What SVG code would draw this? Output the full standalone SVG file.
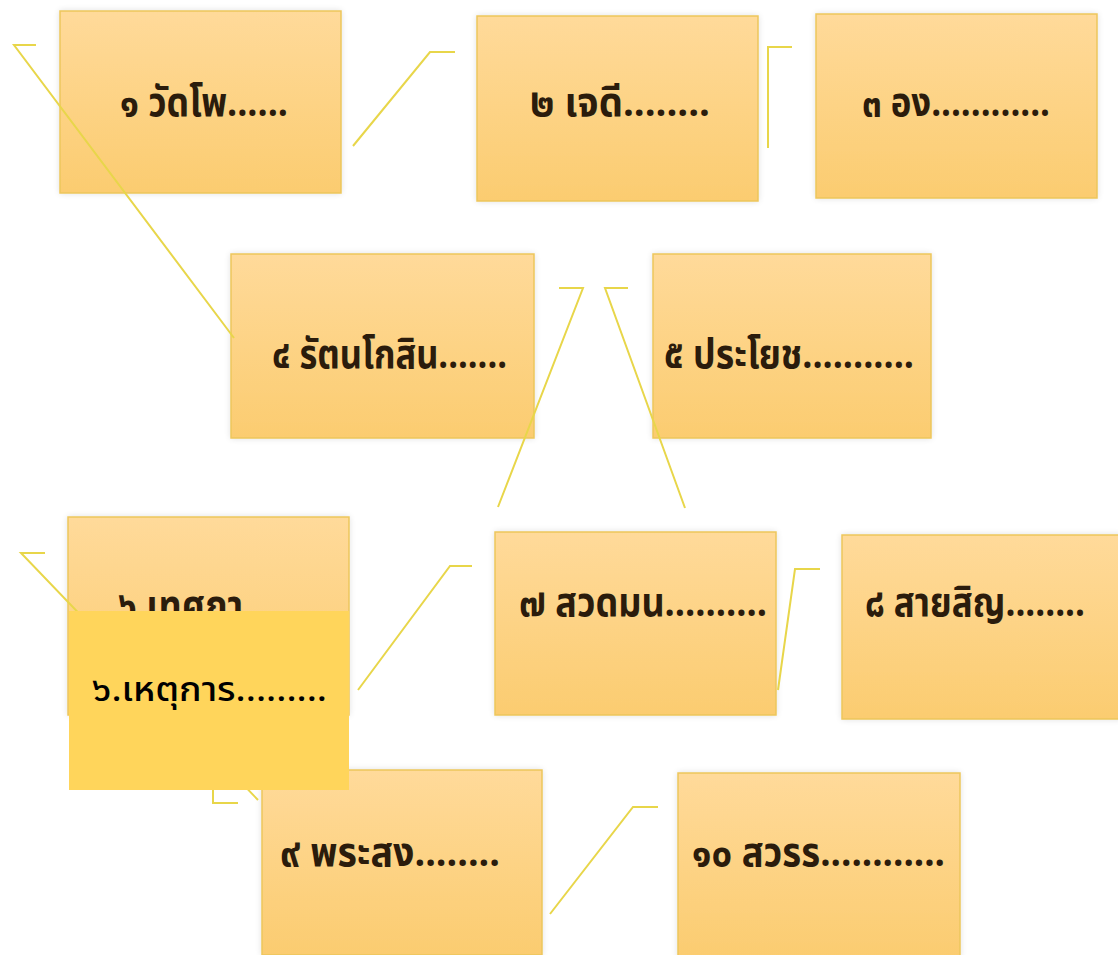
<svg xmlns="http://www.w3.org/2000/svg" width="1118" height="955" viewBox="0 0 1118 955">
<defs>
<linearGradient id="g" x1="0" y1="0" x2="0" y2="1">
<stop offset="0" stop-color="#FFDA9A"/>
<stop offset="1" stop-color="#FBCC70"/>
</linearGradient>
<filter id="glow" x="-10%" y="-10%" width="120%" height="120%">
<feGaussianBlur in="SourceAlpha" stdDeviation="3"/>
<feComponentTransfer><feFuncA type="linear" slope="0.12"/></feComponentTransfer>
<feMerge><feMergeNode/><feMergeNode in="SourceGraphic"/></feMerge>
</filter>
</defs>
<style>
.box{fill:url(#g);stroke:#EDC65C;stroke-width:1.5;filter:url(#glow)}
.lbl{font-family:"Noto Sans Thai","Noto Sans","DejaVu Sans",sans-serif;font-weight:bold;font-size:40px;fill:#2b1c0c}
.con{fill:none;stroke:#E8D64A;stroke-width:2;stroke-linejoin:miter}
.ov{fill:#FFD55B}
.ovt{font-family:"Noto Sans Thai","Noto Sans","DejaVu Sans",sans-serif;font-size:33px;font-weight:500;fill:#000}
</style>
<rect width="1118" height="955" fill="#ffffff"/>
<g id="n1"><rect class="box" x="60" y="11" width="281" height="182"/><text class="lbl" x="120" y="116" textLength="168" lengthAdjust="spacingAndGlyphs">๑ วัดโพ......</text></g>
<g id="n2"><rect class="box" x="477" y="16" width="281" height="185"/><text class="lbl" x="530" y="116" textLength="180" lengthAdjust="spacingAndGlyphs">๒  เจดี........</text></g>
<g id="n3"><rect class="box" x="816" y="14" width="281" height="184"/><text class="lbl" x="862" y="116" textLength="188" lengthAdjust="spacingAndGlyphs">๓ อง............</text></g>
<g id="n4"><rect class="box" x="231" y="254" width="303" height="184"/><text class="lbl" x="272" y="368" textLength="235" lengthAdjust="spacingAndGlyphs">๔ รัตนโกสิน.......</text></g>
<g id="n5"><rect class="box" x="653" y="254" width="278" height="184"/><text class="lbl" x="664" y="368" textLength="250" lengthAdjust="spacingAndGlyphs">๕ ประโยช...........</text></g>
<g id="n6"><rect class="box" x="68" y="517" width="281" height="198"/><text class="lbl" x="118" y="619" textLength="207" lengthAdjust="spacingAndGlyphs">๖ เทศกา........</text></g>
<g id="n7"><rect class="box" x="495" y="532" width="281" height="183"/><text class="lbl" x="519" y="616" textLength="248" lengthAdjust="spacingAndGlyphs">๗  สวดมน..........</text></g>
<g id="n8"><rect class="box" x="842" y="535" width="280" height="184"/><text class="lbl" x="865" y="616" textLength="220" lengthAdjust="spacingAndGlyphs">๘ สายสิญ........</text></g>
<g id="n9"><rect class="box" x="262" y="770" width="280" height="185"/><text class="lbl" x="280" y="866" textLength="220" lengthAdjust="spacingAndGlyphs">๙  พระสง........</text></g>
<g id="n10"><rect class="box" x="678" y="773" width="282" height="185"/><text class="lbl" x="692" y="866" textLength="253" lengthAdjust="spacingAndGlyphs">๑๐ สวรร............</text></g>
<g id="connectors">
<path class="con" d="M36 45 H14 L234 338"/>
<path class="con" d="M353 146 L430 52 H455"/>
<path class="con" d="M768 148 V47 H792"/>
<path class="con" d="M559 288 H583 L498 507"/>
<path class="con" d="M628 288 H605 L685 508"/>
<path class="con" d="M45 553 H21 L258 800"/>
<path class="con" d="M358 690 L450 566 H472"/>
<path class="con" d="M213 760 V803 H238"/>
<path class="con" d="M820 569 H795 L778 690"/>
<path class="con" d="M550 914 L633 807 H658"/>
</g>
<g id="n6b"><rect class="ov" x="69" y="611" width="280" height="179"/><text class="ovt" x="92" y="701" textLength="235" lengthAdjust="spacingAndGlyphs">๖.เหตุการ.........</text></g>
</svg>
